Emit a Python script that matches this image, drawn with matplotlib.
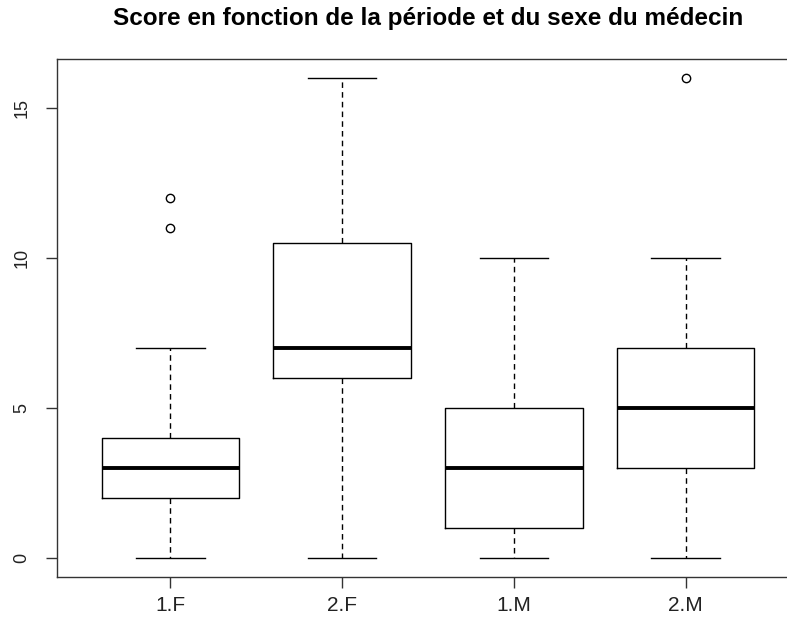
import matplotlib
matplotlib.use("Agg")
import matplotlib.pyplot as plt

plt.rcParams['font.family'] = ['Liberation Sans', 'DejaVu Sans']

groups = ["1.F", "2.F", "1.M", "2.M"]
medians = [3, 7, 3, 5]
q1 = [2, 6, 1, 3]
q3 = [4, 10.5, 5, 7]
whis_low = [0, 0, 0, 0]
whis_high = [7, 16, 10, 10]
outliers = [[11, 12], [], [], [16]]
yticks = [0, 5, 10, 15]

stats = []
for i in range(len(groups)):
    stats.append({"label": groups[i], "med": medians[i], "q1": q1[i], "q3": q3[i],
                  "whislo": whis_low[i], "whishi": whis_high[i], "fliers": outliers[i]})

fig = plt.figure(figsize=(7.87, 6.18), dpi=100)
# plot region runs past the right edge of the picture, as in the reference
ax = fig.add_axes([57 / 787, 41 / 618, 742 / 787, 518 / 618])

ax.bxp(stats, positions=range(1, 5), widths=0.8,
       boxprops=dict(color="black", lw=1),
       whiskerprops=dict(color="black", lw=1, linestyle=(0, (4, 3))),
       capprops=dict(color="black", lw=1),
       capwidths=0.4,
       medianprops=dict(color="black", lw=2.8, solid_capstyle="butt"),
       flierprops=dict(marker="o", markersize=6, markerfacecolor="none",
                       markeredgecolor="black", markeredgewidth=1))

ax.set_xlim(0.34, 4.66)
ax.set_ylim(-0.64, 16.64)
ax.set_yticks(yticks)
ax.set_yticklabels([str(v) for v in yticks], rotation=90, va="center")
ax.tick_params(axis="both", length=8, width=1, color="#333333", labelcolor="#222222")
ax.tick_params(axis="x", labelsize=15, pad=6)
ax.tick_params(axis="y", labelsize=13, pad=11)
for s in ax.spines.values():
    s.set_color("#333333")
    s.set_linewidth(1)

fig.text(428 / 787, 1 - 19 / 618, "Score en fonction de la période et du sexe du médecin",
         ha="center", va="center", fontsize=17.5, fontweight="bold")

fig.savefig("out.png", dpi=100)
